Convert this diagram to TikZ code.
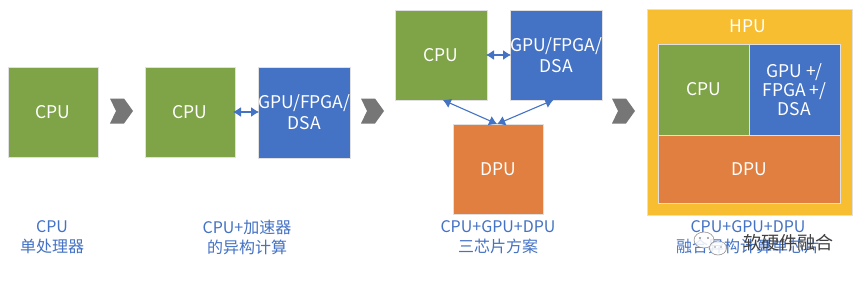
\documentclass[tikz,border=0pt]{standalone}
\usepackage{fontspec}
\setmainfont{Noto Sans CJK SC}
\usetikzlibrary{arrows.meta,calc}
\definecolor{cgreen}{HTML}{7FA347}
\definecolor{cblue}{HTML}{4472C4}
\definecolor{corange}{HTML}{E07F40}
\definecolor{cyellow}{HTML}{F6BE30}
\definecolor{cgray}{HTML}{767676}
\begin{document}
\begin{tikzpicture}[x=1pt,y=-1pt,
  box/.style={anchor=north west, inner sep=0pt, outer sep=0pt, text=white,
    font=\fontsize{17.5}{21}\selectfont, align=center, draw=white!88!black, line width=0.4pt},
  cpubox/.style={box, fill=cgreen},
  gpubox/.style={box, fill=cblue},
  dpubox/.style={box, fill=corange},
  caption/.style={text=cblue, font=\fontsize{16}{20}\selectfont, align=center, inner sep=0pt},
  link/.style={cblue, line width=1.1pt, {Latex[length=8pt,width=10pt]}-{Latex[length=8pt,width=10pt]}},
  chev/.pic={\fill[cgray] (-11.5,-12.5) -- (2.5,-12.5) -- (11.5,0) -- (2.5,12.5) -- (-11.5,12.5) -- (-5.5,0) -- cycle;}
]
\useasboundingbox[fill=white] (0,0) rectangle (865,281);

% stage 1
\node[cpubox, minimum width=90pt, minimum height=90pt] (cpuA) at (8,67) {CPU};
\pic at (121.5,111) {chev};

% stage 2
\node[cpubox, minimum width=90pt, minimum height=90pt] (cpuB) at (145,67) {CPU};
\node[gpubox, minimum width=92pt, minimum height=91pt] (gpuB) at (258,67) {GPU/FPGA/\\DSA};
\draw[link] ([xshift=-2pt]cpuB.east) -- ([xshift=1pt]cpuB.east -| gpuB.west);
\pic at (372.5,111) {chev};

% stage 3
\node[cpubox, minimum width=92pt, minimum height=90pt] (cpuC) at (395,10) {CPU};
\node[gpubox, minimum width=91pt, minimum height=90pt] (gpuC) at (510,10) {GPU/FPGA/\\DSA};
\node[dpubox, minimum width=90pt, minimum height=90pt] (dpuC) at (453,124) {DPU};
\draw[link] ([xshift=-1pt]cpuC.east) -- ([xshift=1pt]cpuC.east -| gpuC.west);
\draw[link] ($(cpuC.south west)!0.52!(cpuC.south east)$) -- ($(dpuC.north west)!0.49!(dpuC.north east)$);
\draw[link] ($(gpuC.south west)!0.47!(gpuC.south east)$) -- ($(dpuC.north west)!0.49!(dpuC.north east)$);
\pic at (623.5,111) {chev};

% stage 4
\node[box, fill=cyellow, minimum width=205pt, minimum height=206pt] (hpu) at (647,9) {};
\node[text=white, font=\fontsize{17.5}{21}\selectfont, inner sep=0pt] (hpulabel) at (748,26) {HPU};
\node[cpubox, minimum width=91pt, minimum height=91pt] (cpuD) at (658,44) {CPU};
\node[gpubox, minimum width=91pt, minimum height=91pt, font=\fontsize{17.5}{19}\selectfont] (gpuD) at (749,44) {GPU +/\\FPGA +/\\DSA};
\node[dpubox, minimum width=182pt, minimum height=68pt] (dpuD) at (658,135) {DPU};

% captions
\node[caption] (capA) at (52,237) {CPU\\单处理器};
\node[caption] (capB) at (247,237) {CPU+加速器\\的异构计算};
\node[caption] (capC) at (498,237) {CPU+GPU+DPU\\三芯片方案};
\node[caption] (capD) at (748,237) {CPU+GPU+DPU\\融合异构计算单芯片};

% watermark
\begin{scope}[opacity=0.85]
\draw[gray, fill=white, line width=0.6pt] (704,240) ellipse [x radius=10, y radius=8];
\draw[gray, fill=white, line width=0.6pt] (718,248) ellipse [x radius=8.5, y radius=7];
\fill[gray] (700,238) circle (1.1) (708,238) circle (1.1) (715,247) circle (0.9) (721,247) circle (0.9);
\end{scope}
\node[text=black!75, font=\fontsize{18}{20}\selectfont, inner sep=0pt] (wm) at (788,243) {软硬件融合};
\end{tikzpicture}
\end{document}
